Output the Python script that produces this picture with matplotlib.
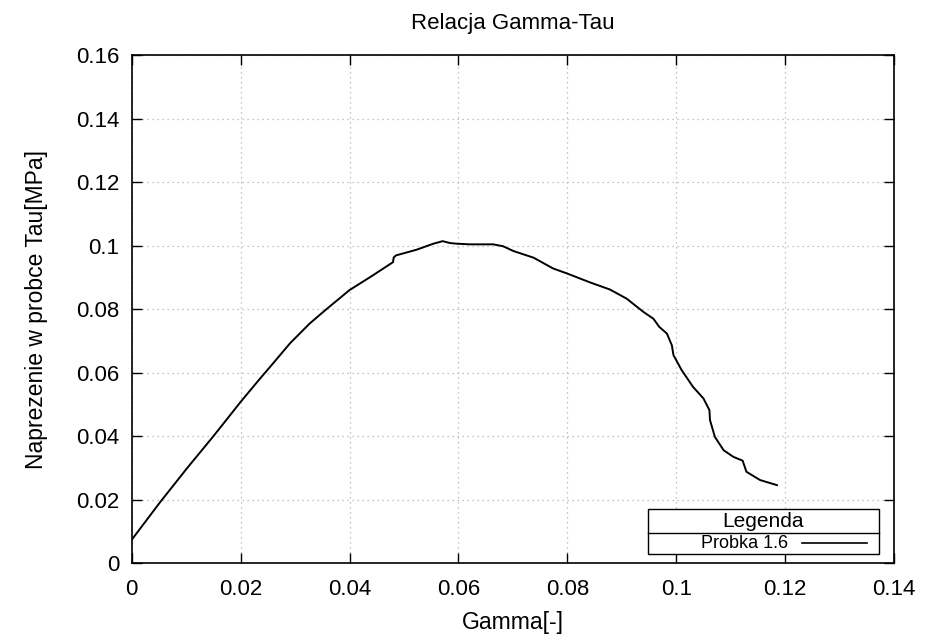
import matplotlib.pyplot as plt
from matplotlib.patches import Rectangle
from matplotlib.lines import Line2D

plt.rcParams['font.family'] = ['Liberation Sans', 'DejaVu Sans']

# Gamma [-] vs Tau [MPa]
gamma = [0.0, 0.0052, 0.0101, 0.0150, 0.0200, 0.0233, 0.0254, 0.0291, 0.0327,
         0.0357, 0.0400, 0.0438, 0.0480, 0.0481, 0.0485, 0.0523, 0.0554, 0.0571,
         0.0585, 0.0597, 0.0621, 0.0664, 0.0682, 0.0701, 0.0738, 0.0774, 0.0800,
         0.0842, 0.0878, 0.0909, 0.0940, 0.0958, 0.0969, 0.0983, 0.0992, 0.0995,
         0.1010, 0.1031, 0.1050, 0.1061, 0.1062, 0.1071, 0.1087, 0.1105, 0.1122,
         0.1129, 0.1154, 0.1185]
tau = [0.0074, 0.0192, 0.0298, 0.0400, 0.0508, 0.0576, 0.0618, 0.0693, 0.0755,
       0.0799, 0.0860, 0.0901, 0.0948, 0.0962, 0.0969, 0.0987, 0.1006, 0.1014,
       0.1008, 0.1006, 0.1004, 0.1004, 0.0998, 0.0983, 0.0962, 0.0928, 0.0912,
       0.0884, 0.0862, 0.0833, 0.0791, 0.0770, 0.0744, 0.0723, 0.0686, 0.0655,
       0.0608, 0.0555, 0.0519, 0.0482, 0.0451, 0.0398, 0.0356, 0.0335, 0.0323,
       0.0288, 0.0262, 0.0246]

xticks = [0, 0.02, 0.04, 0.06, 0.08, 0.1, 0.12, 0.14]
xtick_labels = ['0', '0.02', '0.04', '0.06', '0.08', '0.1', '0.12', '0.14']
yticks = [0, 0.02, 0.04, 0.06, 0.08, 0.1, 0.12, 0.14, 0.16]
ytick_labels = ['0', '0.02', '0.04', '0.06', '0.08', '0.1', '0.12', '0.14', '0.16']

fig = plt.figure(figsize=(9.25, 6.39), dpi=100)
ax = fig.add_axes([0.1424, 0.1185, 0.8241, 0.7954])

ax.plot(gamma, tau, color='black', lw=1.4)

ax.set_xlim(0, 0.14)
ax.set_ylim(0, 0.16)
ax.set_xticks(xticks, xtick_labels)
ax.set_yticks(yticks, ytick_labels)
ax.tick_params(direction='in', length=7, width=1, top=True, right=True,
               labelsize=16)
ax.tick_params(axis='x', pad=11)
ax.tick_params(axis='y', pad=9)
ax.grid(True, color='#b0b0b0', ls=(0, (1, 3)), lw=0.9)
for s in ax.spines.values():
    s.set_linewidth(1.2)

ax.set_title('Relacja Gamma-Tau', fontsize=16, pad=19)
ax.set_xlabel('Gamma[-]', fontsize=16.5, labelpad=8)
ax.set_ylabel('Naprezenie w probce Tau[MPa]', fontsize=16.5, labelpad=20)

# gnuplot-style legend box with title row
t = ax.transAxes
ax.add_patch(Rectangle((0.677, 0.018), 0.303, 0.089, transform=t,
                       fill=True, facecolor='white', edgecolor='black', lw=1, zorder=5))
ax.add_line(Line2D([0.677, 0.980], [0.060, 0.060], transform=t, color='black',
                   lw=1, zorder=6))
ax.text(0.8285, 0.083, 'Legenda', transform=t, ha='center', va='center',
        fontsize=15, zorder=6)
ax.text(0.861, 0.039, 'Probka 1.6', transform=t, ha='right', va='center',
        fontsize=13, zorder=6)
ax.add_line(Line2D([0.879, 0.964], [0.039, 0.039], transform=t, color='black',
                   lw=1.2, zorder=6))

fig.savefig('out.png', dpi=100)
